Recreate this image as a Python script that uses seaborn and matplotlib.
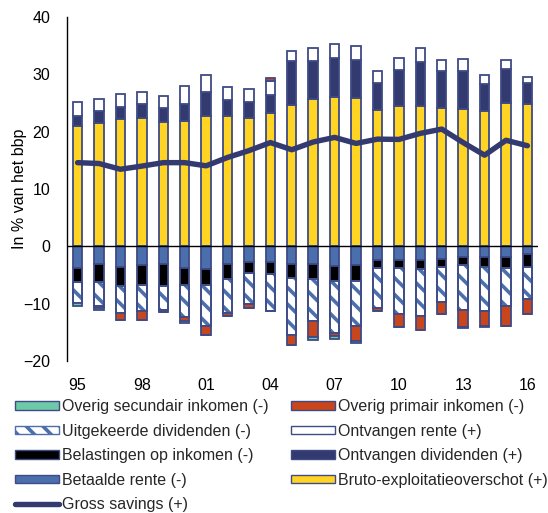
import numpy as np
import matplotlib
matplotlib.use("Agg")
import matplotlib.pyplot as plt
from matplotlib.patches import Patch
from matplotlib.lines import Line2D
import seaborn as sns

# Jaren en componenten van het bruto beschikbaar inkomen (in % van het bbp)
years = list(range(1995, 2017))
tick_years = [1995, 1998, 2001, 2004, 2007, 2010, 2013, 2016]
tick_labels = ["95", "98", "01", "04", "07", "10", "13", "16"]

bruto_exploitatie = [21.0, 21.45, 22.2, 22.4, 21.75, 21.85, 22.8, 22.8, 22.3, 23.25, 24.6,
                     25.7, 26.1, 25.8, 23.8, 24.4, 24.4, 24.1, 24.0, 23.65, 24.95, 24.8]
dividenden_ontv = [1.7, 2.2, 2.15, 2.4, 2.35, 3.05, 4.2, 2.8, 2.9, 3.2, 7.7,
                   6.6, 6.8, 6.7, 4.6, 6.3, 7.7, 6.4, 6.5, 4.65, 6.0, 3.6]
rente_ontv = [2.4, 2.1, 2.25, 2.2, 2.2, 3.0, 2.8, 2.25, 2.25, 2.35, 1.8,
              2.3, 2.3, 2.5, 2.25, 2.2, 2.4, 2.0, 2.1, 1.65, 1.55, 1.15]
rente_betaald = [-3.7, -3.15, -3.55, -3.3, -3.0, -3.7, -4.0, -3.15, -2.7, -2.75, -3.15,
                 -3.15, -3.45, -3.3, -2.4, -2.4, -2.45, -2.15, -1.8, -1.85, -1.8, -1.4]
belastingen = [-2.45, -3.0, -3.4, -3.45, -3.9, -3.1, -2.75, -2.5, -2.0, -2.0, -2.35,
               -2.6, -2.6, -2.75, -1.45, -1.45, -1.45, -1.4, -1.45, -1.7, -1.9, -2.15]
dividenden_uitg = [-3.8, -4.2, -4.65, -4.55, -4.2, -5.5, -7.05, -5.95, -5.35, -6.45, -10.0,
                   -7.3, -9.05, -7.85, -6.85, -7.85, -8.15, -6.1, -7.9, -7.75, -6.7, -5.7]
overig_primair = [0.0, -0.3, -1.15, -1.5, -0.3, -0.65, -1.7, -0.45, -0.6, 0.6, -1.6,
                  -2.75, -0.6, -2.65, -0.6, -2.4, -2.55, -2.05, -2.85, -2.5, -3.5, -2.45]
overig_secundair = [-0.35, -0.35, 0.0, 0.0, 0.0, -0.4, 0.0, 0.0, 0.0, 0.0, 0.0,
                    -0.45, -0.45, -0.3, 0.0, 0.0, 0.0, 0.0, -0.3, -0.3, 0.0, 0.0]
gross_savings = [14.6, 14.45, 13.45, 14.0, 14.6, 14.6, 14.05, 15.5, 16.7, 18.1, 16.85,
                 18.2, 19.0, 17.95, 18.7, 18.65, 19.7, 20.45, 18.1, 15.9, 18.5, 17.55]

# Kleuren
C_YELLOW = "#FFD423"
C_NAVY = "#333A70"
C_BLUE = "#4A6FAC"
C_ORANGE = "#C9451B"
C_TEAL = "#6DC9A7"
C_EDGE = "#3E4B86"

sns.set_theme(style="white")
plt.rcParams["font.family"] = ["Liberation Sans", "DejaVu Sans"]
plt.rcParams["hatch.linewidth"] = 2.6

fig = plt.figure(figsize=(5.48, 5.13), dpi=100)
ax = fig.add_axes([0.122, 0.296, 0.860, 0.671])

BAR_W = 0.44
LW = 1.3


def stack(values, bottom, color, hatch=None, edge=C_EDGE):
    kw = dict(x=years, y=values, bottom=bottom, native_scale=True, color=color,
              saturation=1, width=BAR_W, edgecolor=edge, linewidth=LW,
              errorbar=None, ax=ax, zorder=2)
    if hatch:
        kw["hatch"] = hatch
    sns.barplot(**kw)


pos = np.zeros(len(years))
neg = np.zeros(len(years))

# Positieve componenten
for vals, col in [(bruto_exploitatie, C_YELLOW), (dividenden_ontv, C_NAVY), (rente_ontv, "white")]:
    v = np.asarray(vals)
    stack(v, pos.copy(), col)
    pos += v

# Negatieve componenten
for vals, col in [(rente_betaald, C_BLUE), (belastingen, "black")]:
    v = np.asarray(vals)
    stack(v, neg.copy(), col)
    neg += v

v = np.asarray(dividenden_uitg)
stack(v, neg.copy(), "white", hatch="\\\\", edge=C_BLUE)
stack(v, neg.copy(), "none")
neg += v

# Overig primair inkomen: kan in een enkel jaar positief zijn
v = np.asarray(overig_primair)
bottom = np.where(v > 0, pos, neg)
stack(v, bottom, C_ORANGE)
pos += np.clip(v, 0, None)
neg += np.clip(v, None, 0)

v = np.asarray(overig_secundair)
stack(v, neg.copy(), C_TEAL)
neg += v

# Bruto besparingen
sns.lineplot(x=years, y=gross_savings, color=C_NAVY, linewidth=3.9, ax=ax,
             zorder=4, solid_capstyle="round", solid_joinstyle="round")

ax.axhline(0, color="black", linewidth=1.0, zorder=3)
ax.set_xlim(1994.5, 2016.5)
ax.set_ylim(-20, 40)
ax.set_yticks(range(-20, 41, 10))
ax.set_xticks(tick_years)
ax.set_xticklabels(tick_labels)
ax.tick_params(axis="both", length=0, labelsize=11.5, colors="black")
ax.tick_params(axis="x", pad=12)
ax.tick_params(axis="y", pad=12)
ax.set_xlabel("")
ax.set_ylabel("In % van het bbp", fontsize=11.5, color="black", labelpad=-3)
for s in ["top", "right", "bottom"]:
    ax.spines[s].set_visible(False)
ax.spines["left"].set_color("black")
ax.spines["left"].set_linewidth(1.0)
ax.grid(False)

handles = [
    Patch(facecolor=C_TEAL, edgecolor=C_EDGE, linewidth=1.0),
    Patch(facecolor="white", edgecolor=C_BLUE, hatch="\\\\", linewidth=1.0),
    Patch(facecolor="black", edgecolor=C_EDGE, linewidth=1.0),
    Patch(facecolor=C_BLUE, edgecolor=C_EDGE, linewidth=1.0),
    Line2D([0], [0], color=C_NAVY, linewidth=3.9, solid_capstyle="round"),
    Patch(facecolor=C_ORANGE, edgecolor=C_EDGE, linewidth=1.0),
    Patch(facecolor="white", edgecolor=C_EDGE, linewidth=1.0),
    Patch(facecolor=C_NAVY, edgecolor=C_EDGE, linewidth=1.0),
    Patch(facecolor=C_YELLOW, edgecolor=C_EDGE, linewidth=1.0),
]
labels = [
    "Overig secundair inkomen (-)",
    "Uitgekeerde dividenden (-)",
    "Belastingen op inkomen (-)",
    "Betaalde rente (-)",
    "Gross savings (+)",
    "Overig primair inkomen (-)",
    "Ontvangen rente (+)",
    "Ontvangen dividenden (+)",
    "Bruto-exploitatieoverschot (+)",
]
fig.legend(handles, labels, loc="upper left", bbox_to_anchor=(0.028, 0.222),
           ncol=2, frameon=False, fontsize=11.5, handlelength=2.75,
           handleheight=0.45, handletextpad=0.2, columnspacing=1.35,
           labelspacing=0.6, borderaxespad=0, borderpad=0)

fig.savefig("out.png", dpi=100)
